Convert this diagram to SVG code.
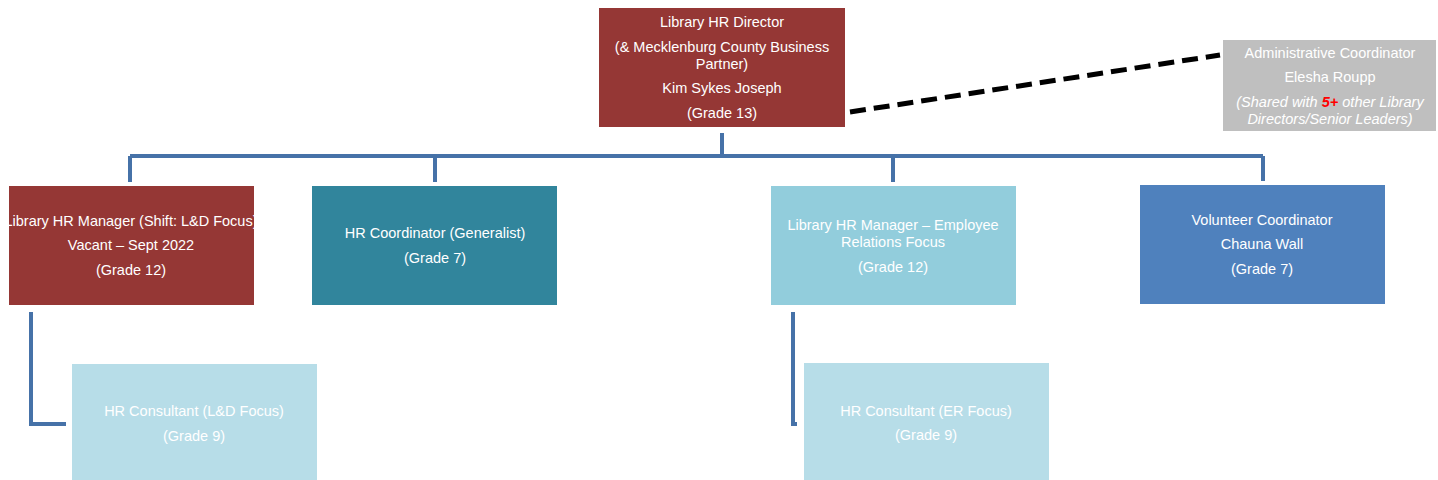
<svg xmlns="http://www.w3.org/2000/svg" width="1438" height="480" viewBox="0 0 1438 480">
<style>
text{font-family:"Liberation Sans",Arial,sans-serif;font-size:14.5px;fill:#ffffff;text-anchor:middle}
.it{font-style:italic}
.conn{fill:none;stroke:#4672A8;stroke-width:4}
.dash{fill:none;stroke:#000;stroke-width:5;stroke-dasharray:16,8}
</style>
<rect width="1438" height="480" fill="#ffffff"/>
<g id="connectors">
<path class="conn" d="M722 133V156M130 156H1263M130 156V182M435 156V182M893 156V182M1263 156V181"/>
<path class="conn" d="M31 312V424H66"/>
<path class="conn" d="M793 312V424H797"/>
<path class="dash" d="M850 112L1220 55"/>
</g>
<g id="director">
<rect x="599" y="8" width="246" height="119" fill="#953735"/>
<text x="722" y="27">Library HR Director</text>
<text x="722" y="52">(&amp; Mecklenburg County Business</text>
<text x="722" y="69">Partner)</text>
<text x="722" y="93">Kim Sykes Joseph</text>
<text x="722" y="118">(Grade 13)</text>
</g>
<g id="admin">
<rect x="1223" y="40" width="213" height="91" fill="#BFBFBF"/>
<text x="1330" y="58">Administrative Coordinator</text>
<text x="1330" y="82">Elesha Roupp</text>
<text x="1330" y="107" class="it">(Shared with <tspan fill="#FF0000" font-weight="bold">5+</tspan> other Library</text>
<text x="1330" y="124" class="it">Directors/Senior Leaders)</text>
</g>
<g id="manager-ld">
<rect x="9" y="186" width="245" height="119" fill="#953735"/>
<text x="131" y="226">Library HR Manager (Shift: L&amp;D Focus)</text>
<text x="131" y="250">Vacant – Sept 2022</text>
<text x="131" y="275">(Grade 12)</text>
</g>
<g id="hr-coordinator">
<rect x="312" y="186" width="245" height="119" fill="#31859C"/>
<text x="435" y="238">HR Coordinator (Generalist)</text>
<text x="435" y="263">(Grade 7)</text>
</g>
<g id="manager-er">
<rect x="771" y="186" width="245" height="119" fill="#92CDDC"/>
<text x="893" y="230">Library HR Manager – Employee</text>
<text x="893" y="247">Relations Focus</text>
<text x="893" y="272">(Grade 12)</text>
</g>
<g id="volunteer">
<rect x="1140" y="185" width="245" height="119" fill="#4F81BD"/>
<text x="1262" y="225">Volunteer Coordinator</text>
<text x="1262" y="249">Chauna Wall</text>
<text x="1262" y="274">(Grade 7)</text>
</g>
<g id="consultant-ld">
<rect x="72" y="364" width="245" height="116" fill="#B7DDE8"/>
<text x="194" y="416">HR Consultant (L&amp;D Focus)</text>
<text x="194" y="441">(Grade 9)</text>
</g>
<g id="consultant-er">
<rect x="804" y="363" width="245" height="117" fill="#B7DDE8"/>
<text x="926" y="416">HR Consultant (ER Focus)</text>
<text x="926" y="440">(Grade 9)</text>
</g>
</svg>
